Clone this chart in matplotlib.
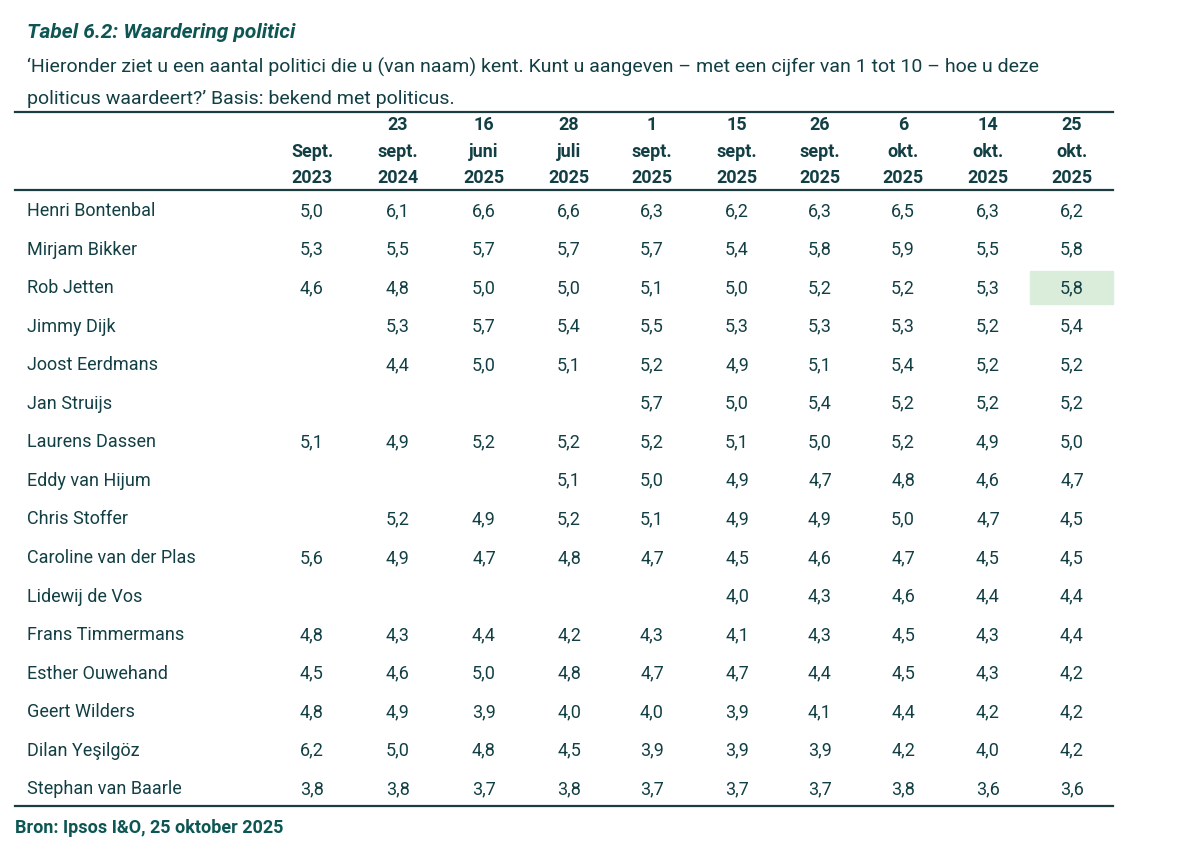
import matplotlib
matplotlib.use("Agg")
import matplotlib.pyplot as plt
from matplotlib.patches import Rectangle

# table data
names = ["Henri Bontenbal", "Mirjam Bikker", "Rob Jetten", "Jimmy Dijk", "Joost Eerdmans",
         "Jan Struijs", "Laurens Dassen", "Eddy van Hijum", "Chris Stoffer",
         "Caroline van der Plas", "Lidewij de Vos", "Frans Timmermans", "Esther Ouwehand",
         "Geert Wilders", "Dilan Yeşilgöz", "Stephan van Baarle"]
columns = ["Sept.\n2023", "23\nsept.\n2024", "16\njuni\n2025", "28\njuli\n2025", "1\nsept.\n2025",
           "15\nsept.\n2025", "26\nsept.\n2025", "6\nokt.\n2025", "14\nokt.\n2025", "25\nokt.\n2025"]
values = [
    ["5,0", "6,1", "6,6", "6,6", "6,3", "6,2", "6,3", "6,5", "6,3", "6,2"],
    ["5,3", "5,5", "5,7", "5,7", "5,7", "5,4", "5,8", "5,9", "5,5", "5,8"],
    ["4,6", "4,8", "5,0", "5,0", "5,1", "5,0", "5,2", "5,2", "5,3", "5,8"],
    ["", "5,3", "5,7", "5,4", "5,5", "5,3", "5,3", "5,3", "5,2", "5,4"],
    ["", "4,4", "5,0", "5,1", "5,2", "4,9", "5,1", "5,4", "5,2", "5,2"],
    ["", "", "", "", "5,7", "5,0", "5,4", "5,2", "5,2", "5,2"],
    ["5,1", "4,9", "5,2", "5,2", "5,2", "5,1", "5,0", "5,2", "4,9", "5,0"],
    ["", "", "", "5,1", "5,0", "4,9", "4,7", "4,8", "4,6", "4,7"],
    ["", "5,2", "4,9", "5,2", "5,1", "4,9", "4,9", "5,0", "4,7", "4,5"],
    ["5,6", "4,9", "4,7", "4,8", "4,7", "4,5", "4,6", "4,7", "4,5", "4,5"],
    ["", "", "", "", "", "4,0", "4,3", "4,6", "4,4", "4,4"],
    ["4,8", "4,3", "4,4", "4,2", "4,3", "4,1", "4,3", "4,5", "4,3", "4,4"],
    ["4,5", "4,6", "5,0", "4,8", "4,7", "4,7", "4,4", "4,5", "4,3", "4,2"],
    ["4,8", "4,9", "3,9", "4,0", "4,0", "3,9", "4,1", "4,4", "4,2", "4,2"],
    ["6,2", "5,0", "4,8", "4,5", "3,9", "3,9", "3,9", "4,2", "4,0", "4,2"],
    ["3,8", "3,8", "3,7", "3,8", "3,7", "3,7", "3,7", "3,8", "3,6", "3,6"],
]
highlight = (2, 9)

txt = "#123f44"
teal = "#0d5654"
plt.rcParams['font.family'] = ['Roboto', 'DejaVu Sans']

W, H = 1200, 846
fig = plt.figure(figsize=(W / 100, H / 100), dpi=100)
ax = fig.add_axes([0, 0, 1, 1])
ax.set_xlim(0, W)
ax.set_ylim(H, 0)
ax.axis("off")

ax.text(27, 33, "Tabel 6.2: Waardering politici", color=teal, fontsize=15,
        fontweight="bold", fontstyle="italic", va="center")
ax.text(27, 67, "‘Hieronder ziet u een aantal politici die u (van naam) kent. Kunt u aangeven – met een cijfer van 1 tot 10 – hoe u deze",
        color=txt, fontsize=14, va="center")
ax.text(27, 99, "politicus waardeert?’ Basis: bekend met politicus.", color=txt, fontsize=14, va="center")

col_x = [312, 398, 484, 569, 652, 737, 820, 903, 988, 1072]
for lw_y in (112, 190, 806):
    ax.plot([15, 1113], [lw_y, lw_y], color="#1c3d40", lw=1.6)

for x, c in zip(col_x, columns):
    ax.text(x, 187, c, ha="center", va="bottom", color=txt, fontsize=13,
            fontweight="bold", linespacing=1.6)

row_y0, step = 211, 38.55
hr, hc = highlight
ax.add_patch(Rectangle((1030, row_y0 + hr * step - 17), 83, 33, color="#d9edda", zorder=0))
for i, (n, row) in enumerate(zip(names, values)):
    y = row_y0 + i * step
    ax.text(27, y, n, color=txt, fontsize=13, va="center")
    for x, v in zip(col_x, row):
        if v:
            ax.text(x, y, v, color=txt, fontsize=13, va="center", ha="center")

ax.text(15, 828, "Bron: Ipsos I&O, 25 oktober 2025", color=teal, fontsize=13,
        fontweight="bold", va="center")

fig.savefig("out.png", dpi=100)
